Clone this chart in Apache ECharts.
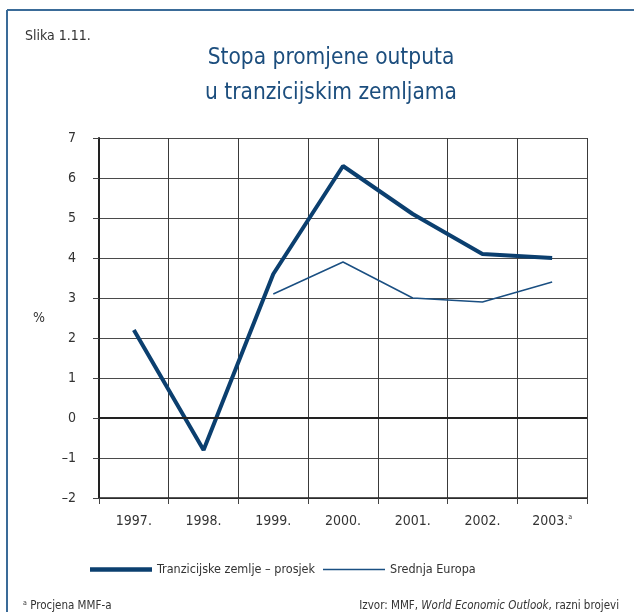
<!DOCTYPE html>
<html>
<head>
<meta charset="utf-8">
<script src="https://cdn.jsdelivr.net/npm/echarts@6/dist/echarts.min.js"></script>
<style>
html, body { margin: 0; padding: 0; background: #fff; }
#main { width: 634px; height: 612px; }
</style>
</head>
<body>
<div id="main"></div>
<script>
// godine i vrijednosti
var years = ['1997.', '1998.', '1999.', '2000.', '2001.', '2002.', '2003.'];
var tranzicijske = [2.2, -0.8, 3.6, 6.3, 5.1, 4.1, 4.0];
var srednjaEuropa = [null, null, 3.1, 3.9, 3.0, 2.9, 3.4];

var FONT = '"DejaVu Sans Condensed", sans-serif';
var BLUE = '#0b3f6f';
var TEXT = '#333';

var myChart = echarts.init(document.getElementById('main'));

var option = {
    animation: false,
    backgroundColor: '#fff',
    textStyle: { fontFamily: FONT },
    title: [{
        text: 'Stopa promjene outputa\nu tranzicijskim zemljama',
        left: 326,
        top: 36,
        textAlign: 'center',
        textStyle: { fontFamily: FONT, fontSize: 22.5, fontWeight: 'normal', color: '#1b4d7d', lineHeight: 35 }
    }, {
        text: 'Slika 1.11.',
        left: 20,
        top: 24,
        textStyle: { fontFamily: FONT, fontSize: 14, fontWeight: 'normal', color: TEXT }
    }, {
        text: '{s|a} Procjena MMF-a',
        left: 18,
        top: 595,
        textStyle: {
            fontFamily: FONT, fontSize: 11.5, fontWeight: 'normal', color: TEXT,
            rich: { s: { fontSize: 7, verticalAlign: 'top', color: TEXT, fontFamily: FONT } }
        }
    }, {
        text: 'Izvor: MMF, {i|World Economic Outlook}, razni brojevi',
        right: 10,
        top: 595,
        textStyle: {
            fontFamily: FONT, fontSize: 11.5, fontWeight: 'normal', color: TEXT,
            rich: { i: { fontStyle: 'italic', fontSize: 11.5, color: TEXT, fontFamily: FONT } }
        }
    }],
    legend: [{
        data: ['Tranzicijske zemlje – prosjek'],
        left: 85,
        top: 558,
        icon: 'rect',
        itemWidth: 62,
        itemHeight: 4.5,
        itemGap: 5,
        textStyle: { fontFamily: FONT, fontSize: 12.5, color: TEXT }
    }, {
        data: ['Srednja Europa'],
        left: 318,
        top: 558,
        icon: 'rect',
        itemWidth: 62,
        itemHeight: 1.5,
        textStyle: { fontFamily: FONT, fontSize: 12.5, color: TEXT }
    }],
    grid: { left: 99, right: 47, top: 138, bottom: 114 },
    xAxis: {
        type: 'category',
        data: years,
        boundaryGap: true,
        axisLine: { onZero: false, lineStyle: { color: '#222', width: 1.5 } },
        axisTick: { show: true, interval: 0, length: 6, lineStyle: { color: '#444' } },
        splitLine: { show: true, interval: 0, lineStyle: { color: '#3a3a3a', width: 1 } },
        axisLabel: {
            interval: 0,
            fontFamily: FONT, fontSize: 14, color: TEXT, margin: 16,
            formatter: function (v) {
                return v === '2003.' ? v + '{s|a}' : v;
            },
            rich: { s: { fontSize: 7, verticalAlign: 'top', color: TEXT, fontFamily: FONT } }
        }
    },
    yAxis: {
        type: 'value',
        min: -2,
        max: 7,
        interval: 1,
        name: '%',
        nameLocation: 'middle',
        nameRotate: 0,
        nameGap: 54,
        nameTextStyle: { fontFamily: FONT, fontSize: 14, color: TEXT },
        axisLine: { show: true, lineStyle: { color: '#222', width: 2 } },
        axisTick: { show: true, length: 6, lineStyle: { color: '#444' } },
        splitLine: { show: true, lineStyle: { color: '#4a4a4a', width: 1 } },
        axisLabel: {
            fontFamily: FONT, fontSize: 14, color: TEXT, margin: 23,
            formatter: function (v) { return v < 0 ? '\u2013' + Math.abs(v) : String(v); }
        }
    },
    series: [{
        name: 'Tranzicijske zemlje – prosjek',
        type: 'line',
        data: tranzicijske,
        symbol: 'none',
        color: BLUE,
        lineStyle: { width: 4, color: BLUE },
        markLine: {
            silent: true,
            symbol: 'none',
            label: { show: false },
            lineStyle: { color: '#222', width: 2, type: 'solid' },
            data: [{ yAxis: 0 }]
        },
        z: 3
    }, {
        name: 'Srednja Europa',
        type: 'line',
        data: srednjaEuropa,
        symbol: 'none',
        color: '#1a4f82',
        lineStyle: { width: 1.5, color: '#1a4f82' },
        z: 3
    }],
    graphic: [{
        type: 'line',
        shape: { x1: 7, y1: 10, x2: 634, y2: 10 },
        style: { stroke: '#3a6b98', lineWidth: 2 }
    }, {
        type: 'line',
        shape: { x1: 7, y1: 10, x2: 7, y2: 612 },
        style: { stroke: '#3a6b98', lineWidth: 2 }
    }]
};

myChart.setOption(option);
</script>
</body>
</html>
